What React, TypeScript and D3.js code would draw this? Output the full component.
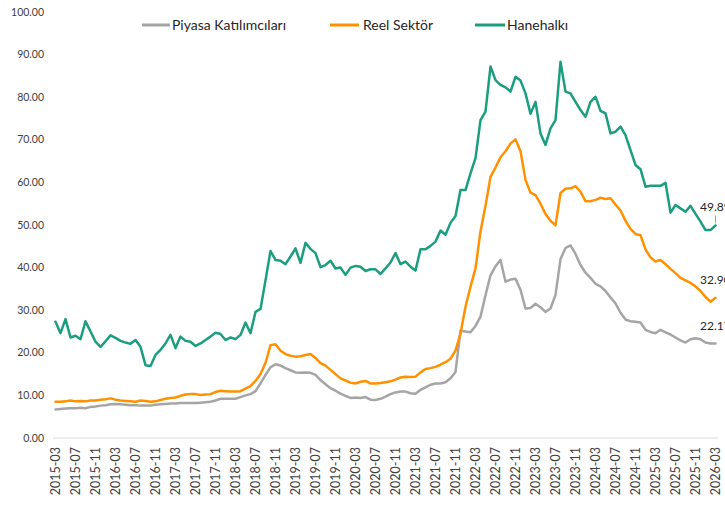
import React from "react";
import * as d3 from "d3";

const months: string[] = d3
  .timeMonth.range(new Date(2015, 2, 1), new Date(2026, 3, 1))
  .map(d3.timeFormat("%Y-%m"));

const tickLabels: string[] = [
  "2015-03","2015-07","2015-11","2016-03","2016-07","2016-11","2017-03","2017-07","2017-11",
  "2018-03","2018-07","2018-11","2019-03","2019-07","2019-11","2020-03","2020-07","2020-11",
  "2021-03","2021-07","2021-11","2022-03","2022-07","2022-11","2023-03","2023-07","2023-11",
  "2024-03","2024-07","2024-11","2025-03","2025-07","2025-11","2026-03",
];

const yTicks: number[] = [0, 10, 20, 30, 40, 50, 60, 70, 80, 90, 100];

const seriesNames: string[] = ["Piyasa Katılımcıları", "Reel Sektör", "Hanehalkı"];

const piyasa: number[] = [
  6.7, 6.8, 6.9, 7.0, 7.0, 7.1, 7.0, 7.3, 7.4, 7.6, 7.7, 7.9, 8.0, 7.9, 7.8, 7.7, 7.7, 7.6, 7.6, 7.6,
  7.8, 7.9, 8.0, 8.1, 8.1, 8.2, 8.2, 8.2, 8.2, 8.3, 8.4, 8.5, 8.8, 9.2, 9.2, 9.2, 9.2, 9.6, 10.0, 10.3,
  11.0, 12.8, 14.8, 16.6, 17.3, 17.0, 16.4, 15.9, 15.4, 15.3, 15.4, 15.3, 14.8, 13.6, 12.6, 11.7, 11.1, 10.4, 9.9, 9.4,
  9.5, 9.4, 9.6, 9.0, 8.9, 9.2, 9.7, 10.3, 10.7, 10.9, 10.9, 10.5, 10.4, 11.3, 11.9, 12.5, 12.8, 12.8, 13.1, 14.0,
  15.5, 25.2, 25.0, 24.8, 26.3, 28.5, 33.5, 38.2, 40.3, 41.8, 36.7, 37.2, 37.4, 34.8, 30.4, 30.5, 31.5, 30.7, 29.6, 30.4,
  33.6, 42.0, 44.6, 45.2, 43.2, 40.6, 38.8, 37.6, 36.2, 35.6, 34.5, 33.0, 31.6, 29.4, 27.8, 27.4, 27.3, 27.1, 25.4, 24.9,
  24.6, 25.4, 24.8, 24.3, 23.6, 22.9, 22.4, 23.2, 23.4, 23.2, 22.4, 22.2, 22.17,
];

const reel: number[] = [
  8.5, 8.5, 8.6, 8.8, 8.6, 8.7, 8.6, 8.8, 8.8, 9.0, 9.1, 9.3, 9.0, 8.8, 8.7, 8.6, 8.5, 8.8, 8.7, 8.5,
  8.6, 8.9, 9.2, 9.4, 9.5, 9.9, 10.2, 10.3, 10.3, 10.1, 10.2, 10.3, 10.8, 11.1, 11.0, 10.9, 10.9, 11.0, 11.6, 12.2,
  13.4, 15.0, 17.6, 21.8, 22.0, 20.5, 19.7, 19.3, 19.1, 19.2, 19.5, 19.7, 18.8, 17.6, 17.0, 16.0, 15.0, 14.0, 13.5, 13.0,
  12.8, 13.2, 13.4, 12.8, 12.8, 12.9, 13.1, 13.3, 13.7, 14.2, 14.4, 14.3, 14.4, 15.4, 16.2, 16.4, 16.7, 17.2, 17.8, 18.6,
  20.5, 24.5, 30.8, 35.5, 39.8, 48.5, 54.5, 61.3, 63.5, 65.9, 67.3, 69.1, 70.1, 67.3, 60.6, 57.6, 57.0, 55.0, 52.6, 51.0,
  49.9, 57.5, 58.5, 58.6, 59.1, 57.8, 55.6, 55.6, 55.9, 56.4, 56.1, 56.3, 54.8, 53.4, 51.0, 49.1, 47.9, 47.6, 44.3, 42.4,
  41.4, 41.8, 40.8, 39.7, 38.7, 37.6, 37.0, 36.4, 35.6, 34.5, 33.1, 32.0, 32.9,
];

const hane: number[] = [
  27.3, 24.6, 27.9, 23.6, 24.0, 23.2, 27.4, 25.0, 22.6, 21.4, 22.7, 24.1, 23.5, 22.8, 22.4, 22.1, 23.0, 21.4, 17.1, 16.9,
  19.5, 20.7, 22.2, 24.2, 21.1, 23.8, 22.8, 22.6, 21.6, 22.2, 23.0, 23.8, 24.7, 24.4, 23.0, 23.6, 23.2, 24.2, 27.1, 24.6,
  29.6, 30.3, 37.0, 43.9, 41.8, 41.6, 40.8, 42.6, 44.5, 41.1, 45.8, 44.4, 43.4, 40.1, 40.6, 41.6, 39.8, 40.0, 38.3, 40.0,
  40.4, 40.2, 39.2, 39.6, 39.6, 38.5, 39.8, 41.2, 43.4, 40.8, 41.4, 40.2, 39.3, 44.3, 44.3, 45.1, 46.1, 48.7, 47.7, 50.5,
  52.1, 58.2, 58.2, 62.1, 65.7, 74.6, 76.6, 87.2, 84.0, 82.9, 82.3, 81.3, 84.8, 83.9, 80.9, 76.1, 78.9, 71.5, 68.8, 72.7,
  74.6, 88.3, 81.3, 80.9, 78.9, 77.0, 75.4, 78.9, 80.1, 76.8, 76.2, 71.5, 71.9, 73.1, 71.1, 67.6, 64.1, 63.1, 59.0, 59.2,
  59.2, 59.2, 59.9, 52.9, 54.7, 53.9, 53.1, 54.5, 52.6, 50.8, 48.8, 48.8, 49.89,
];

const lastLabels: string[] = ["22.17", "32.90", "49.89"];

const colors = ["#a5a5a5", "#ff9100", "#1b9e80"];
const FONT = "Lato, 'Open Sans', sans-serif";

export default function App() {
  const W = 725;
  const H = 505;
  const left = 53;
  const right = 718;
  const top = 12;
  const bottom = 438;

  const x = d3.scaleBand<string>().domain(months).range([left, right]).padding(0);
  const cx = (m: string) => (x(m) as number) + x.bandwidth() / 2;
  const y = d3.scaleLinear().domain([0, 100]).range([bottom, top]);

  const all = [piyasa, reel, hane];
  const line = d3
    .line<number>()
    .x((_, i) => cx(months[i]))
    .y((d) => y(d));

  const legend = [
    { x1: 142, x2: 170, tx: 172 },
    { x1: 330, x2: 359, tx: 363 },
    { x1: 475, x2: 505, tx: 507 },
  ];

  const lastM = months[months.length - 1];

  return (
    <div style={{ position: "fixed", left: 0, top: 0, width: W, height: H, background: "#fff" }}>
      <svg width={W} height={H} style={{ display: "block" }} fontFamily={FONT}>
        <rect width={W} height={H} fill="#fff" />
        {yTicks.map((t) => (
          <text key={t} x={44} y={y(t)} dy="0.35em" textAnchor="end" fontSize={10.5} fill="#404040">
            {t.toFixed(2)}
          </text>
        ))}
        <line x1={left} x2={right} y1={y(0)} y2={y(0)} stroke="#d9d9d9" strokeWidth={1} />
        {tickLabels.map((lab) => {
          const px = cx(lab);
          return (
            <text
              key={lab}
              transform={`translate(${px},${bottom + 9}) rotate(-90)`}
              textAnchor="end"
              dy="0.35em"
              fontSize={12.5}
              fill="#404040"
            >
              {lab}
            </text>
          );
        })}
        {all.map((s, k) => (
          <path
            key={k}
            d={line(s) || ""}
            fill="none"
            stroke={colors[k]}
            strokeWidth={2.5}
            strokeLinejoin="round"
            strokeLinecap="round"
          />
        ))}
        <line
          x1={cx(lastM)}
          x2={cx(lastM)}
          y1={y(hane[hane.length - 1]) - 2}
          y2={y(hane[hane.length - 1]) - 10}
          stroke="#a5a5a5"
          strokeWidth={1}
        />
        {all.map((s, k) => (
          <text key={k} x={700} y={y(s[s.length - 1]) - 14} fontSize={12} fill="#262626">
            {lastLabels[k]}
          </text>
        ))}
        {seriesNames.map((n, k) => (
          <g key={n}>
            <line x1={legend[k].x1} x2={legend[k].x2} y1={25} y2={25} stroke={colors[k]} strokeWidth={3} />
            <text x={legend[k].tx} y={25} dy="0.35em" fontSize={14} fill="#262626">
              {n}
            </text>
          </g>
        ))}
      </svg>
    </div>
  );
}
